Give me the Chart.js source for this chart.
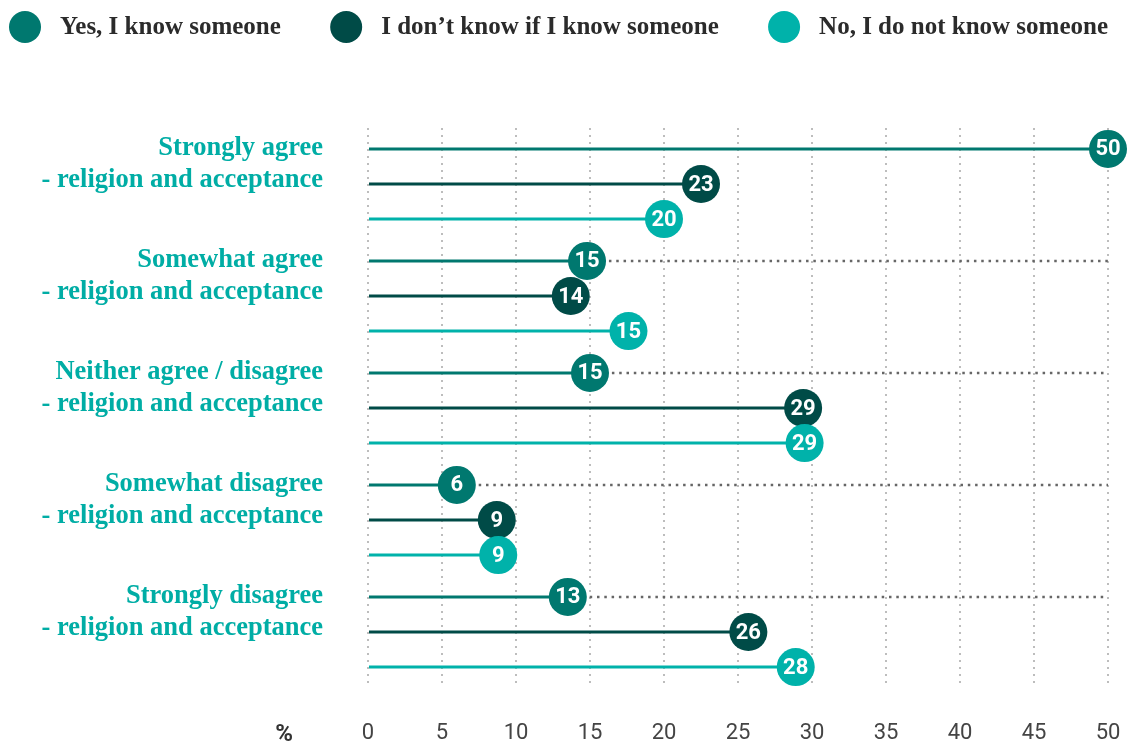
<!DOCTYPE html>
<html>
<head>
<meta charset="utf-8">
<script src="https://cdn.jsdelivr.net/npm/chart.js@4.4.1/dist/chart.umd.min.js"></script>
<style>
  html, body { margin: 0; padding: 0; background: #fff; }
  #wrap { width: 1130px; height: 744px; }
</style>
</head>
<body>
<div id="wrap"><canvas id="lollipop"></canvas></div>
<script>
const categories = [
    ['Strongly agree', '- religion and acceptance'],
    ['Somewhat agree', '- religion and acceptance'],
    ['Neither agree / disagree', '- religion and acceptance'],
    ['Somewhat disagree', '- religion and acceptance'],
    ['Strongly disagree', '- religion and acceptance']
];
const seriesNames = ['Yes, I know someone', 'I don\u2019t know if I know someone', 'No, I do not know someone'];
const seriesColors = ['#00786f', '#004b47', '#00b2aa'];

// where each dot sits on the % axis
const yesValues = [50, 14.8, 15, 6, 13.5];
const dontKnowValues = [22.5, 13.7, 29.4, 8.7, 25.7];
const noValues = [20, 17.6, 29.5, 8.8, 28.9];

// the number printed inside each dot
const yesLabels = ['50', '15', '15', '6', '13'];
const dontKnowLabels = ['23', '14', '29', '9', '26'];
const noLabels = ['20', '15', '29', '9', '28'];

const xMin = 0;
const xMax = 50;
const xStep = 5;

const legendFont = 'bold 25px "Liberation Serif", "DejaVu Serif", serif';

const lollipopPlugin = {
    id: 'lollipop',
    beforeDatasetsDraw(chart) {
        // dotted continuation of the first row in each group
        const ctx = chart.ctx;
        const area = chart.chartArea;
        ctx.save();
        ctx.strokeStyle = '#666666';
        ctx.lineWidth = 2.5;
        ctx.setLineDash([2.5, 4.8]);
        chart.getDatasetMeta(0).data.forEach(bar => {
            ctx.beginPath();
            ctx.moveTo(bar.x, bar.y);
            ctx.lineTo(area.right, bar.y);
            ctx.stroke();
        });
        ctx.restore();
    },
    afterDatasetsDraw(chart) {
        const ctx = chart.ctx;
        ctx.save();
        ctx.font = 'bold 22px Roboto, "DejaVu Sans", sans-serif';
        ctx.textAlign = 'center';
        ctx.textBaseline = 'middle';
        chart.data.datasets.forEach((ds, i) => {
            chart.getDatasetMeta(i).data.forEach((bar, j) => {
                ctx.fillStyle = ds.backgroundColor;
                ctx.beginPath();
                ctx.arc(bar.x, bar.y, 19, 0, Math.PI * 2);
                ctx.fill();
                ctx.fillStyle = '#ffffff';
                ctx.fillText(ds.dotLabels[j], bar.x, bar.y + 1);
            });
        });
        ctx.restore();
    },
    afterDraw(chart) {
        const ctx = chart.ctx;
        const area = chart.chartArea;
        ctx.save();

        // legend row
        ctx.font = legendFont;
        ctx.textBaseline = 'middle';
        ctx.textAlign = 'left';
        const r = 16, gap = 35, y = 27;
        const widths = seriesNames.map(t => ctx.measureText(t).width);
        const used = widths.reduce((a, w) => a + r + gap + w, 0);
        const spacing = (1108 - 9 - used) / (seriesNames.length - 1);
        let x = 9;
        seriesNames.forEach((name, i) => {
            ctx.fillStyle = seriesColors[i];
            ctx.beginPath();
            ctx.arc(x + r, y, r, 0, Math.PI * 2);
            ctx.fill();
            ctx.fillStyle = '#2b2b2b';
            ctx.fillText(name, x + r + gap, y + 1);
            x += r + gap + widths[i] + spacing;
        });

        // unit label left of the x ticks
        ctx.font = 'bold 24px Roboto, sans-serif';
        ctx.fillStyle = '#333333';
        ctx.textAlign = 'center';
        ctx.fillText('%', area.left - 84, 735);
        ctx.restore();
    }
};

const ctx = document.getElementById('lollipop').getContext('2d');

new Chart(ctx, {
    type: 'bar',
    data: {
        labels: categories,
        datasets: [
            { label: seriesNames[0], data: yesValues, dotLabels: yesLabels, backgroundColor: seriesColors[0] },
            { label: seriesNames[1], data: dontKnowValues, dotLabels: dontKnowLabels, backgroundColor: seriesColors[1] },
            { label: seriesNames[2], data: noValues, dotLabels: noLabels, backgroundColor: seriesColors[2] }
        ]
    },
    options: {
        indexAxis: 'y',
        responsive: true,
        maintainAspectRatio: false,
        animation: false,
        categoryPercentage: 0.94,
        barPercentage: 1,
        maxBarThickness: 3,
        layout: {
            padding: { top: 128, right: 22, left: 0, bottom: 0 }
        },
        plugins: {
            legend: { display: false },
            tooltip: { enabled: false }
        },
        scales: {
            x: {
                min: xMin,
                max: xMax,
                ticks: {
                    stepSize: xStep,
                    color: '#444444',
                    padding: 32,
                    font: { family: '"Liberation Sans Narrow", Roboto, sans-serif', size: 22 }
                },
                grid: {
                    color: '#bdbdbd',
                    lineWidth: 2,
                    drawTicks: false
                },
                border: { display: false, dash: [2, 5] },
                afterFit(scale) {
                    scale.height = 56;
                    scale.paddingLeft = 0;
                    scale.paddingRight = 0;
                }
            },
            y: {
                ticks: {
                    color: '#00ada5',
                    padding: 45,
                    labelOffset: -20,
                    font: { family: '"Liberation Serif", serif', size: 26.5, weight: 'bold', lineHeight: 1.2 }
                },
                grid: { display: false, drawTicks: false },
                border: { display: false },
                afterFit(scale) {
                    scale.width = 368;
                    scale.paddingTop = 0;
                    scale.paddingBottom = 0;
                }
            }
        }
    },
    plugins: [lollipopPlugin]
});
</script>
</body>
</html>
